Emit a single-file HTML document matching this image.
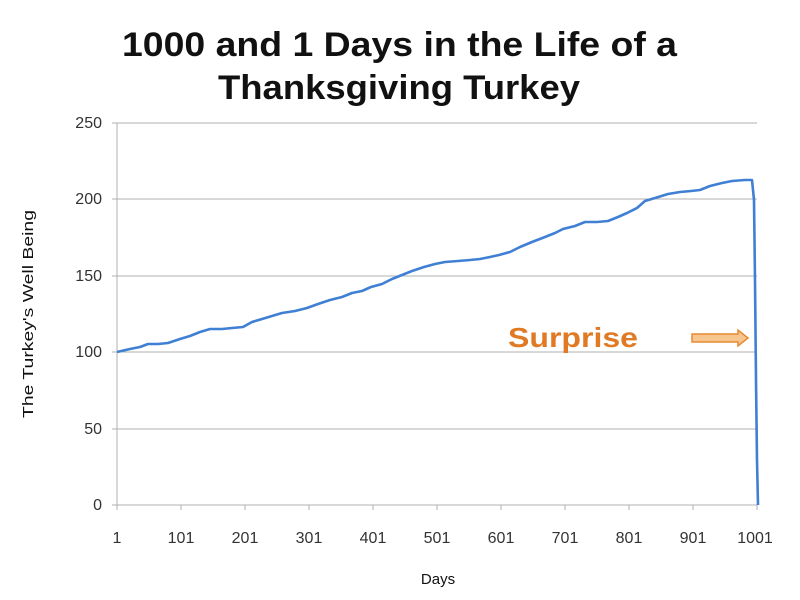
<!DOCTYPE html>
<html><head><meta charset="utf-8"><style>
html,body{margin:0;padding:0;background:#fff;}
svg{display:block;}
</style></head><body>
<svg width="800" height="600" viewBox="0 0 800 600" xmlns="http://www.w3.org/2000/svg" font-family="'Liberation Sans', sans-serif">
<rect width="800" height="600" fill="#fff"/>
<text x="122" y="56" textLength="555" lengthAdjust="spacingAndGlyphs" font-size="34" font-weight="bold" fill="#111">1000 and 1 Days in the Life of a</text>
<text x="218" y="99" textLength="362" lengthAdjust="spacingAndGlyphs" font-size="34" font-weight="bold" fill="#111">Thanksgiving Turkey</text>
<g stroke="#b0b0b0" stroke-width="1">
<line x1="117" y1="123" x2="757" y2="123"/>
<line x1="117" y1="199" x2="757" y2="199"/>
<line x1="117" y1="276" x2="757" y2="276"/>
<line x1="117" y1="352" x2="757" y2="352"/>
<line x1="117" y1="429" x2="757" y2="429"/>
<line x1="117" y1="123" x2="117" y2="505"/>
<line x1="112" y1="505" x2="757" y2="505"/>
<line x1="112" y1="123" x2="117" y2="123"/><line x1="112" y1="199" x2="117" y2="199"/><line x1="112" y1="276" x2="117" y2="276"/><line x1="112" y1="352" x2="117" y2="352"/><line x1="112" y1="429" x2="117" y2="429"/>
<line x1="117" y1="505" x2="117" y2="510"/><line x1="181" y1="505" x2="181" y2="510"/><line x1="245" y1="505" x2="245" y2="510"/><line x1="309" y1="505" x2="309" y2="510"/><line x1="373" y1="505" x2="373" y2="510"/><line x1="437" y1="505" x2="437" y2="510"/><line x1="501" y1="505" x2="501" y2="510"/><line x1="565" y1="505" x2="565" y2="510"/><line x1="629" y1="505" x2="629" y2="510"/><line x1="693" y1="505" x2="693" y2="510"/><line x1="757" y1="505" x2="757" y2="510"/>
</g>
<g font-size="16" fill="#333" text-anchor="end">
<text x="102" y="128">250</text><text x="102" y="204">200</text><text x="102" y="281">150</text><text x="102" y="357">100</text><text x="102" y="434">50</text><text x="102" y="510">0</text>
</g>
<g font-size="16" fill="#333" text-anchor="middle">
<text x="117" y="543">1</text><text x="181" y="543">101</text><text x="245" y="543">201</text><text x="309" y="543">301</text><text x="373" y="543">401</text><text x="437" y="543">501</text><text x="501" y="543">601</text><text x="565" y="543">701</text><text x="629" y="543">801</text><text x="693" y="543">901</text><text x="755" y="543">1001</text>
</g>
<text x="438" y="584" text-anchor="middle" font-size="15" fill="#111">Days</text>
<text transform="translate(33,418) rotate(-90)" textLength="208" lengthAdjust="spacingAndGlyphs" font-size="15" fill="#111">The Turkey's Well Being</text>
<polyline fill="none" stroke="#3f7fd4" stroke-width="2.6" stroke-linejoin="round" points="117,352 130,349 140,347 148,344 158,344 168,343 180,339 190,336 200,332 210,329 222,329 232,328 243,327 252,322 262,319 272,316 282,313 295,311 307,308 318,304 330,300 342,297 352,293 362,291 371,287 382,284 392,279 402,275 412,271 424,267 435,264 445,262 458,261 470,260 480,259 490,257 499,255 510,252 520,247 532,242 545,237 555,233 563,229 575,226 585,222 597,222 608,221 618,217 627,213 637,208 645,201 655,198 668,194 680,192 691,191 700,190 710,186 722,183 732,181 745,180 752,180 754,200 755,280 756,380 757,460 758,505"/>
<text x="508" y="347" textLength="130" lengthAdjust="spacingAndGlyphs" font-size="28" font-weight="bold" fill="#e07a24">Surprise</text>
<path d="M692,334 L738,334 L738,330 L748,338 L738,346 L738,342 L692,342 Z" fill="#f7c58e" stroke="#e58a32" stroke-width="1.5"/>
</svg>
</body></html>
